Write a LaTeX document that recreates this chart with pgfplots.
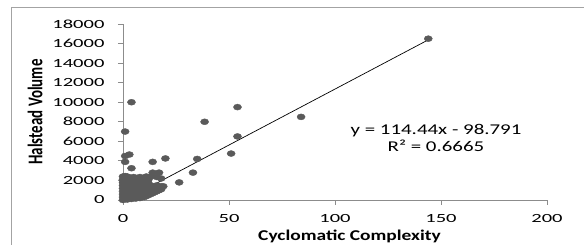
\documentclass[border=0pt]{standalone}
\usepackage{pgfplots}
\pgfplotsset{compat=1.18}
\usepackage{fontspec}
\setmainfont{Carlito}
\newfontfamily\tickfont[FakeStretch=1.65]{Carlito}
\newfontfamily\eqfont[FakeStretch=1.4]{Carlito}
\newfontfamily\labfont[FakeStretch=1.3]{Carlito}
\definecolor{markgray}{HTML}{5A5A5A}
\definecolor{axgray}{HTML}{8C8C8C}
\begin{document}
\begin{tikzpicture}
\useasboundingbox (0bp,0bp) rectangle (584bp,245bp);
\draw[axgray!80, line width=0.9bp] (11.5bp,-5bp) -- (11.5bp,238bp) -- (600bp,238bp);
\begin{axis}[
  at={(123bp,45bp)}, anchor=south west,
  scale only axis, width=424bp, height=176bp,
  xmin=0, xmax=200, ymin=0, ymax=18000,
  axis x line=bottom, axis y line=left,
  axis line style={axgray, line width=0.8bp, -},
  xtick={0,50,100,150,200},
  ytick={0,2000,4000,6000,8000,10000,12000,14000,16000,18000},
  scaled y ticks=false,
  /pgf/number format/set thousands separator={},
  /pgf/number format/assume math mode=true,
  tick align=outside, major tick length=5bp,
  tick style={axgray, line width=0.8bp},
  tick label style={font=\tickfont\fontsize{12.5}{14}\selectfont, text=black},
  xticklabel style={yshift=-6bp},
  yticklabel style={xshift=-10bp},
  clip=false,
]
\addplot[only marks, mark=*, mark size=3bp, mark options={xscale=1.35, fill=markgray, draw=markgray}] coordinates {
(0,0)(0,300)(0,600)(0,900)(0,1200)(0,1500)(0,1800)(0,2100)(0,2400)
(1,100)(1,400)(1,700)(1,1000)(1,1300)(1,1600)(1,1900)(1,2200)(1,2450)
(2,50)(2,350)(2,650)(2,950)(2,1250)(2,1550)(2,1850)(2,2150)(2,2400)
(3,200)(3,500)(3,800)(3,1100)(3,1400)(3,1700)(3,2000)(3,2300)
(4,100)(4,400)(4,700)(4,1000)(4,1300)(4,1600)(4,1900)(4,2250)
(5,250)(5,550)(5,850)(5,1150)(5,1450)(5,1750)(5,2050)(5,2350)
(6,150)(6,450)(6,750)(6,1050)(6,1350)(6,1650)(6,1950)(6,2200)
(7,300)(7,600)(7,900)(7,1200)(7,1500)(7,1800)(7,2100)
(8,200)(8,500)(8,800)(8,1100)(8,1400)(8,1700)(8,2000)(8,2350)
(9,350)(9,650)(9,950)(9,1250)(9,1550)(9,1900)(9,2200)
(10,300)(10,600)(10,900)(10,1200)(10,1500)(10,1800)(10,2150)
(11,400)(11,700)(11,1000)(11,1300)(11,1600)(11,2000)(11,2400)
(12,500)(12,800)(12,1100)(12,1400)(12,1700)(12,2100)
(13,600)(13,900)(13,1200)(13,1500)(13,2400)
(14,700)(14,1000)(14,1300)
(15,800)(15,1100)(15,1400)
(16,900)(16,1200)(16,1500)(16,2350)
(17,1000)(17,1300)
(18,1100)(18,1400)
(19,1400)(18,2200)(14,2800)(17,2800)(26.5,1800)(33,2800)
(35,4200)(20,4250)(14,3900)(4,3250)(1,3900)(1,4500)(3,4650)
(51,4750)(54,6500)(1,7000)(38.5,8000)(84,8500)(54,9500)(4,10000)
(144,16500)
};
\addplot[black, line width=0.7bp, no marks] coordinates {(1,15.6) (144,16380.6)};
\end{axis}
\node[font=\eqfont\fontsize{15}{17}\selectfont, align=center] at (436bp,107bp)
  {y = 114.44x - 98.791\\R² = 0.6665};
\node[font=\labfont\bfseries\fontsize{15}{17}\selectfont] at (349.5bp,9bp) {Cyclomatic Complexity};
\node[font=\bfseries\fontsize{15}{17}\selectfont, rotate=90] at (35bp,133bp) {\scalebox{1}[1.4]{Halstead Volume}};
\end{tikzpicture}
\end{document}
